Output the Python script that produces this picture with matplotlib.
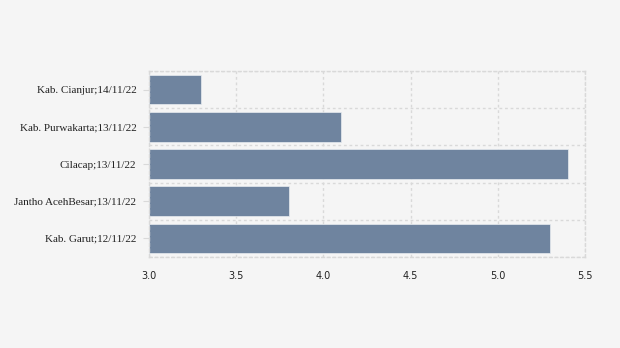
import matplotlib
matplotlib.use("Agg")
import matplotlib.pyplot as plt
import numpy as np

categories = ["Kab. Cianjur;14/11/22", "Kab. Purwakarta;13/11/22", "Cilacap;13/11/22",
              "Jantho AcehBesar;13/11/22", "Kab. Garut;12/11/22"]
values = [3.3, 4.1, 5.4, 3.8, 5.3]
xticks = [3.0, 3.5, 4.0, 4.5, 5.0, 5.5]

fig = plt.figure(figsize=(6.2, 3.48), dpi=100, facecolor="#f5f5f5")
ax = fig.add_axes([149/620, 1-257/348, (585-149)/620, (257-71)/348])
ax.set_facecolor("#f5f5f5")

y = np.arange(len(categories))
ax.barh(y, [v - 3.0 for v in values], left=3.0, height=0.8, color="#6f849f",
        edgecolor="#e8ecf0", linewidth=0.5, zorder=2)
ax.set_xlim(3.0, 5.5)
ax.set_ylim(len(categories) - 0.5, -0.5)
ax.set_yticks(y)
ax.set_yticklabels(categories, fontfamily="Liberation Serif", fontsize=8, color="#222222")
ax.set_yticks(np.arange(-0.5, len(categories), 1.0), minor=True)
ax.set_xticks(xticks)
ax.set_xticklabels([f"{t:.1f}" for t in xticks], fontfamily="DejaVu Sans", fontsize=7, color="#222222")
ax.tick_params(axis="y", which="major", length=4, color="#d9d9d9", pad=5)
ax.tick_params(axis="y", which="minor", length=0)
ax.tick_params(axis="x", length=0, pad=10)
ax.grid(axis="x", which="major", color="#d9d9d9", linestyle=(0, (2, 2)), linewidth=1, zorder=0)
ax.grid(axis="y", which="minor", color="#d9d9d9", linestyle=(0, (2, 2)), linewidth=1, zorder=0)
for s in ax.spines.values():
    s.set_color("#d9d9d9")
    s.set_linestyle((0, (2, 2)))
    s.set_linewidth(1)

fig.savefig("out.png", dpi=100, facecolor=fig.get_facecolor())
